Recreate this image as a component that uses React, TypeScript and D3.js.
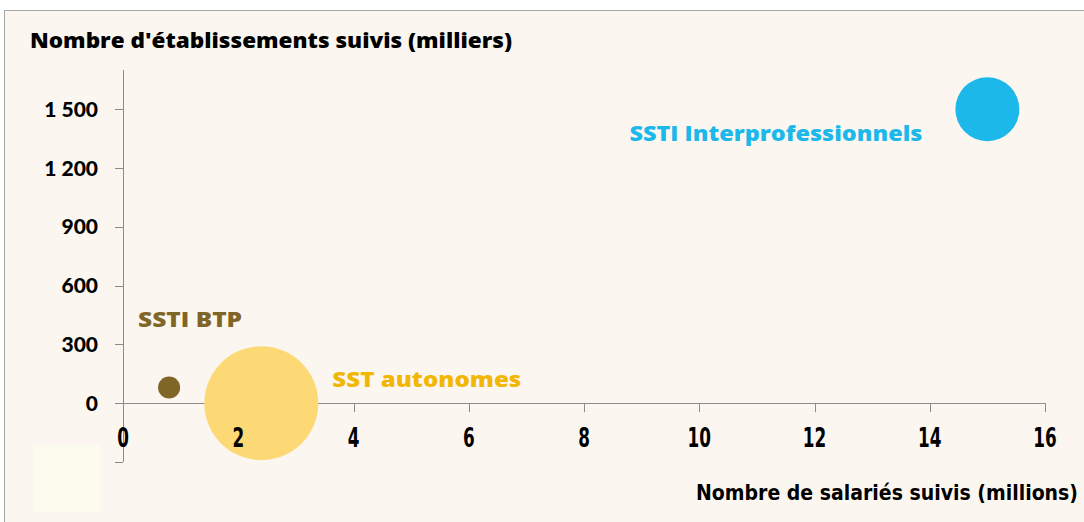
import React, { useEffect, useRef } from 'react';
import * as d3 from 'd3';

// données
const services = ['SSTI Interprofessionnels', 'SSTI BTP', 'SST autonomes'];
const salaries = [15, 0.8, 2.4]; // millions
const etablissements = [1500, 80, 0]; // milliers
const tailles = [260, 31, 825]; // taille des bulles
const xTicks = [0, 2, 4, 6, 8, 10, 12, 14, 16];
const yTicks = [0, 300, 600, 900, 1200, 1500];

const couleurs = ['#1CB8EA', '#7F6526', '#FDD976'];
const couleursLabels = ['#1CB8EA', '#7F6526', '#F2B705'];
// position des étiquettes par rapport au centre des bulles (px)
const labelPos = [
  { dx: -65, dy: 32, anchor: 'end', len: 293 },
  { dx: -31, dy: -61, anchor: 'start', len: 104 },
  { dx: 71, dy: -16, anchor: 'start', len: 189 },
];

const App = () => {
  const ref = useRef<SVGSVGElement>(null);

  useEffect(() => {
    const svg = d3.select(ref.current);
    svg.selectAll('*').remove();

    var width = 1084,
      height = 522;

    // fond
    svg.append('rect').attr('width', width).attr('height', height).attr('fill', '#fff');
    svg
      .append('rect')
      .attr('x', 4.5)
      .attr('y', 10.5)
      .attr('width', width)
      .attr('height', height)
      .attr('fill', '#FBF7F0')
      .attr('stroke', '#A6A6A6');

    // zone pâle (reste de légende)
    svg
      .append('rect')
      .attr('x', 33)
      .attr('y', 445)
      .attr('width', 67)
      .attr('height', 67)
      .attr('fill', '#FBFBEE');

    // échelles
    var x = d3.scaleLinear().domain([0, 16]).range([123, 1045]);
    var y = d3.scaleLinear().domain([-300, 1700]).range([462, 70]);
    var r = d3.scaleSqrt().domain([0, d3.max(tailles) as number]).range([0, 57]);

    const axisColor = '#8C8C8C';

    // axe Y
    svg
      .append('line')
      .attr('x1', x(0) + 0.5)
      .attr('x2', x(0) + 0.5)
      .attr('y1', y(1700))
      .attr('y2', y(-300))
      .attr('stroke', axisColor);
    svg
      .append('g')
      .selectAll('line')
      .data([...yTicks, -300])
      .enter()
      .append('line')
      .attr('x1', x(0) - 8)
      .attr('x2', x(0))
      .attr('y1', (d) => Math.round(y(d)) + 0.5)
      .attr('y2', (d) => Math.round(y(d)) + 0.5)
      .attr('stroke', axisColor);
    svg
      .append('g')
      .selectAll('text')
      .data(yTicks)
      .enter()
      .append('text')
      .attr('x', 98)
      .attr('y', (d) => y(d))
      .attr('dy', '0.36em')
      .attr('text-anchor', 'end')
      .style('font-family', 'Lato, sans-serif')
      .style('font-weight', '900')
      .style('font-size', '21px')
      .text((d) => d3.format(',')(d).replace(',', ' '));

    // axe X
    svg
      .append('line')
      .attr('x1', x(0))
      .attr('x2', x(16))
      .attr('y1', Math.round(y(0)) + 0.5)
      .attr('y2', Math.round(y(0)) + 0.5)
      .attr('stroke', axisColor);
    svg
      .append('g')
      .selectAll('line')
      .data(xTicks.slice(1))
      .enter()
      .append('line')
      .attr('x1', (d) => Math.round(x(d)) + 0.5)
      .attr('x2', (d) => Math.round(x(d)) + 0.5)
      .attr('y1', y(0))
      .attr('y2', y(0) + 9)
      .attr('stroke', axisColor);

    // bulles
    svg
      .append('g')
      .selectAll('circle')
      .data(services)
      .enter()
      .append('circle')
      .attr('cx', (d, i) => x(salaries[i]))
      .attr('cy', (d, i) => y(etablissements[i]))
      .attr('r', (d, i) => r(tailles[i]))
      .attr('fill', (d, i) => couleurs[i]);

    // étiquettes X (dessinées après les bulles, comme dans l'original)
    svg
      .append('g')
      .selectAll('text')
      .data(xTicks)
      .enter()
      .append('text')
      .attr('transform', (d) => 'translate(' + x(d) + ',447) scale(0.72,1)')
      .attr('text-anchor', 'middle')
      .style('font-family', '"DejaVu Sans Condensed", sans-serif')
      .style('font-weight', 'bold')
      .style('font-size', '26px')
      .text((d) => d);

    // étiquettes des séries
    svg
      .append('g')
      .selectAll('text')
      .data(services)
      .enter()
      .append('text')
      .attr('x', (d, i) => x(salaries[i]) + labelPos[i].dx)
      .attr('y', (d, i) => y(etablissements[i]) + labelPos[i].dy)
      .attr('text-anchor', (d, i) => labelPos[i].anchor)
      .attr('textLength', (d, i) => labelPos[i].len)
      .attr('lengthAdjust', 'spacingAndGlyphs')
      .attr('fill', (d, i) => couleursLabels[i])
      .style('font-family', '"Open Sans", sans-serif')
      .style('font-weight', '800')
      .style('font-size', '21px')
      .text((d) => d);

    // titres des axes
    svg
      .append('text')
      .attr('x', 30)
      .attr('y', 48)
      .attr('textLength', 482)
      .attr('lengthAdjust', 'spacingAndGlyphs')
      .style('font-family', '"Open Sans", sans-serif')
      .style('font-weight', '800')
      .style('font-size', '21px')
      .text("Nombre d'établissements suivis (milliers)");

    svg
      .append('text')
      .attr('transform', 'translate(696,500) scale(1,1.15)')
      .attr('textLength', 382)
      .attr('lengthAdjust', 'spacingAndGlyphs')
      .style('font-family', '"DejaVu Sans Condensed", sans-serif')
      .style('font-weight', 'bold')
      .style('font-size', '19px')
      .text('Nombre de salariés suivis (millions)');
  }, []);

  return (
    <svg
      ref={ref}
      width={1084}
      height={522}
      style={{ position: 'absolute', left: 0, top: 0 }}
    ></svg>
  );
};

export default App;
